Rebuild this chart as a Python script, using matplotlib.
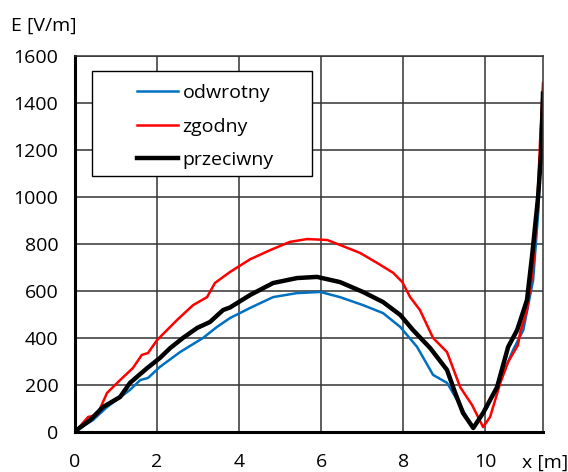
import matplotlib.pyplot as plt
from matplotlib.patches import Rectangle

plt.rcParams['font.family'] = ['Open Sans', 'DejaVu Sans']

x_odwr = [0, 0.04, 0.44, 0.78, 1.34, 1.59, 1.78, 2.07, 2.56, 3.12, 3.46, 3.78, 4.27, 4.83, 5.41,
          5.98, 6.46, 7.02, 7.51, 7.93, 8.34, 8.73, 9.07, 9.32, 9.56, 9.71, 10.05, 10.37, 10.68,
          10.93, 11.17, 11.3, 11.38]
e_odwr = [0, 8, 51, 106, 179, 221, 230, 277, 340, 400, 447, 485, 528, 574, 591,
          596, 574, 540, 506, 447, 362, 243, 209, 136, 60, 17, 106, 221, 349,
          434, 647, 950, 1380]

x_zgod = [0, 0.04, 0.32, 0.54, 0.78, 1.10, 1.41, 1.63, 1.78, 2.0, 2.49, 2.88, 3.22, 3.41, 3.78,
          4.27, 4.76, 5.24, 5.66, 6.15, 6.46, 6.95, 7.37, 7.76, 7.98, 8.17, 8.41, 8.73, 9.07,
          9.39, 9.68, 9.95, 10.12, 10.37, 10.56, 10.80, 10.85, 11.02, 11.17, 11.27, 11.34, 11.41]
e_zgod = [0, 8, 64, 72, 166, 221, 272, 328, 336, 391, 477, 540, 574, 634, 681,
          735, 774, 809, 821, 817, 796, 762, 719, 677, 638, 574, 519, 400, 340,
          191, 115, 21, 64, 209, 298, 370, 421, 519, 700, 957, 1243, 1485]

x_prze = [0, 0.04, 0.37, 0.68, 1.10, 1.34, 1.76, 2.07, 2.32, 2.63, 2.98, 3.29, 3.61, 3.78, 4.27,
          4.83, 5.41, 5.90, 6.46, 7.02, 7.51, 7.93, 8.24, 8.66, 9.07, 9.27, 9.46, 9.71, 9.95,
          10.29, 10.56, 10.78, 11.02, 11.15, 11.29, 11.37, 11.41]
e_prze = [0, 8, 51, 106, 149, 209, 272, 315, 357, 400, 443, 468, 519, 530, 583,
          634, 655, 660, 638, 596, 553, 498, 434, 357, 264, 166, 81, 17, 81,
          191, 362, 434, 562, 760, 1000, 1200, 1440]

xticks = [0, 2, 4, 6, 8, 10]
yticks = [0, 200, 400, 600, 800, 1000, 1200, 1400, 1600]

W, H = 568, 472
fig = plt.figure(figsize=(W / 100, H / 100), dpi=100)
ax = fig.add_axes([75 / W, 40 / H, 468 / W, 376 / H])

ax.plot(x_odwr, e_odwr, color='#0070C0', lw=1.8, label='odwrotny')
ax.plot(x_zgod, e_zgod, color='#FF0000', lw=1.8, label='zgodny')
ax.plot(x_prze, e_prze, color='black', lw=3.2, label='przeciwny')

ax.set_xlim(0, 11.41)
ax.set_ylim(0, 1600)
ax.set_xticks(xticks)
ax.set_yticks(yticks)
ax.tick_params(length=0, labelsize=14)
ax.tick_params(axis='y', pad=12)
ax.tick_params(axis='x', pad=15)
ax.grid(True, color='#333333', lw=1.1)
ax.set_axisbelow(True)

for s in ['left', 'bottom']:
    ax.spines[s].set_linewidth(2.2)
    ax.spines[s].set_color('black')
for s in ['top', 'right']:
    ax.spines[s].set_linewidth(1.1)
    ax.spines[s].set_color('#333333')

fig.text(11 / W, 1 - 26 / H, 'E [V/m]', fontsize=14, va='center', ha='left')
fig.text(522 / W, 1 - 463 / H, 'x [m]', fontsize=14, va='center', ha='left')

# ramka legendy
box = Rectangle((92 / W, 1 - 176 / H), 220 / W, 105 / H, transform=fig.transFigure,
                facecolor='white', edgecolor='black', lw=1.0, zorder=4, clip_on=False)
ax.add_patch(box)

leg = ax.legend(loc='upper left', bbox_to_anchor=(137 / W, 1 - 84 / H),
                bbox_transform=fig.transFigure, fontsize=14, frameon=False,
                handlelength=2.1, handletextpad=0.25, borderpad=0,
                labelspacing=0.8, borderaxespad=0)
leg.set_zorder(5)

fig.savefig('out.png', dpi=100)
